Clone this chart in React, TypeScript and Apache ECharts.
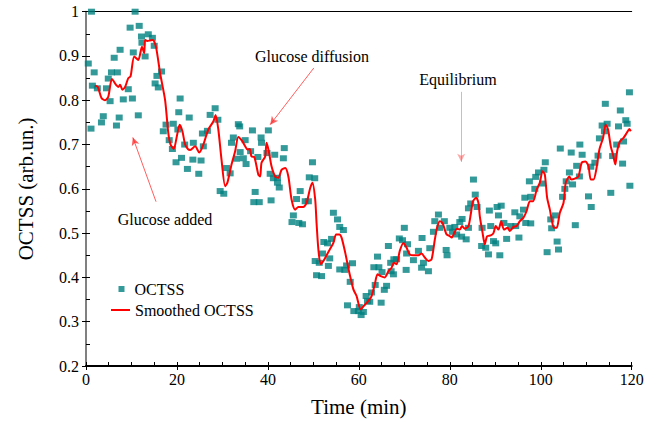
import React, { useEffect, useRef } from "react";
import * as echarts from "echarts";

// Measured OCTSS points (time in min, value in arb. units)
const octssTime = [
  1.2, 10.8, 9.7, 11.7, 12.2, 13.7, 14.6, 12.3, 15.0, 7.5, 10.4, 6.2, 13.0, 0.5, 1.8, 5.6, 6.9, 16.6, 4.9, 15.6,
  1.4, 2.5, 4.5, 9.3, 15.2, 15.9, 5.3, 8.2, 10.2, 20.7, 20.4, 22.7, 3.8, 3.4, 7.3, 11.5, 1.1, 6.7, 17.0, 17.6,
  19.2, 20.2, 18.3, 19.0, 19.8, 21.0, 21.7, 22.3,
  28.4, 27.3, 29.0, 26.7, 25.6, 33.5, 33.8, 36.6, 40.1, 23.6, 25.8, 32.4, 32.0, 35.0, 38.5, 38.6, 43.6, 23.5, 25.3, 33.9,
  36.2, 39.8, 41.5, 43.4, 34.6, 37.8, 33.1, 35.2, 24.8, 30.9, 31.7, 40.5, 41.2, 42.1, 42.1, 42.5, 29.5, 30.3, 37.2, 36.9,
  38.1, 40.7,
  49.8, 49.1, 50.3, 47.1, 46.3, 48.2, 48.9, 45.6, 45.3, 46.8, 47.6, 54.4, 55.3, 55.8, 56.6, 52.3, 53.1, 54.0, 52.0, 53.6,
  50.4, 51.3, 53.3, 50.7, 51.8, 55.8, 56.9, 57.3, 58.6, 58.1, 57.5, 58.9, 59.9, 60.5, 61.0, 60.1, 61.6, 61.9, 62.4, 62.8,
  63.6, 64.9, 65.6, 66.1, 64.1, 63.3, 64.4, 65.1, 66.5, 67.0, 67.7, 67.6, 67.1, 68.3, 70.0, 68.9, 69.6, 70.7, 70.5, 70.4,
  85.2, 85.6, 84.6, 84.1, 86.0, 88.7, 90.4, 91.3, 90.7, 94.3, 77.5, 76.7, 78.8, 76.4, 77.8, 80.0, 81.1, 82.2, 82.7, 84.1,
  80.6, 81.5, 82.6, 83.6, 73.9, 87.1, 89.0, 91.9, 92.5, 95.2, 89.6, 90.1, 87.0, 87.9, 88.5, 91.0, 72.0, 73.1, 75.6, 79.2,
  79.4, 74.2, 73.8, 75.3,
  119.5, 114.2, 117.5, 118.7, 119.0, 114.6, 113.5, 114.0, 117.1, 112.9, 118.2, 116.7, 115.8, 118.0, 108.6, 104.3, 106.7, 109.1, 112.6, 111.9,
  111.0, 101.0, 99.5, 100.7, 98.9, 107.9, 106.3, 108.5, 97.5, 100.4, 105.6, 107.0, 119.6, 98.7, 105.3, 115.4, 104.8, 110.5, 96.5, 97.8,
  111.1, 96.2, 95.4, 103.2, 102.2, 107.6, 96.7, 97.8, 102.4, 93.4, 94.5, 103.6, 101.4, 103.9,
];
const octssValue = [
  1.0, 1.0, 0.964, 0.968, 0.944, 0.949, 0.941, 0.93, 0.923, 0.914, 0.908, 0.896, 0.899, 0.883, 0.863, 0.863, 0.863, 0.865, 0.849, 0.855,
  0.833, 0.827, 0.827, 0.825, 0.838, 0.829, 0.798, 0.802, 0.804, 0.804, 0.773, 0.761, 0.764, 0.75, 0.761, 0.766, 0.736, 0.743, 0.73, 0.745,
  0.747, 0.734, 0.71, 0.69, 0.66, 0.67, 0.70, 0.645,
  0.782, 0.767, 0.756, 0.731, 0.725, 0.746, 0.741, 0.732, 0.732, 0.704, 0.696, 0.716, 0.704, 0.71, 0.716, 0.704, 0.692, 0.666, 0.664, 0.683,
  0.685, 0.681, 0.677, 0.669, 0.669, 0.672, 0.668, 0.656, 0.634, 0.647, 0.635, 0.634, 0.624, 0.625, 0.614, 0.603, 0.595, 0.589, 0.593, 0.57,
  0.57, 0.574,
  0.66, 0.626, 0.624, 0.595, 0.577, 0.572, 0.572, 0.54, 0.525, 0.523, 0.52, 0.546, 0.531, 0.514, 0.507, 0.48, 0.477, 0.487, 0.454, 0.443,
  0.437, 0.433, 0.426, 0.405, 0.403, 0.418, 0.417, 0.427, 0.432, 0.39, 0.337, 0.324, 0.324, 0.315, 0.322, 0.333, 0.358, 0.347, 0.345, 0.366,
  0.383, 0.343, 0.372, 0.381, 0.447, 0.423, 0.423, 0.412, 0.471, 0.433, 0.441, 0.407, 0.414, 0.441, 0.512, 0.488, 0.484, 0.475, 0.454, 0.417,
  0.621, 0.587, 0.567, 0.556, 0.559, 0.551, 0.559, 0.562, 0.54, 0.547, 0.542, 0.527, 0.527, 0.503, 0.512, 0.512, 0.514, 0.525, 0.532, 0.512,
  0.503, 0.497, 0.492, 0.486, 0.489, 0.512, 0.516, 0.523, 0.487, 0.49, 0.482, 0.477, 0.471, 0.467, 0.452, 0.45, 0.439, 0.46, 0.466, 0.462,
  0.45, 0.433, 0.422, 0.414,
  0.818, 0.792, 0.777, 0.755, 0.747, 0.747, 0.743, 0.73, 0.741, 0.714, 0.707, 0.70, 0.674, 0.657, 0.70, 0.691, 0.682, 0.677, 0.675, 0.659,
  0.65, 0.66, 0.637, 0.643, 0.627, 0.652, 0.637, 0.628, 0.617, 0.612, 0.617, 0.61, 0.607, 0.60, 0.60, 0.591, 0.582, 0.583, 0.58, 0.582,
  0.559, 0.553, 0.538, 0.54, 0.531, 0.518, 0.523, 0.522, 0.511, 0.516, 0.516, 0.481, 0.457, 0.463,
];

// Smoothed OCTSS curve
const smoothTime = [
  2.0, 2.6, 3.4, 4.2, 4.9, 5.7, 6.6, 7.1, 7.5, 8.0, 8.6, 9.3, 9.8, 10.6, 11.5, 12.3, 12.8, 13.0, 13.5, 14.1,
  14.7, 15.4, 16.3, 17.4, 18.1, 18.6, 19.3, 20.0, 20.6, 21.2, 21.8, 22.4, 22.9, 24.0, 24.9, 25.8, 26.9, 28.0, 28.5, 29.1,
  29.8, 30.6, 31.1, 32.0, 32.8, 33.5, 34.4, 35.0, 35.5, 36.0, 36.4, 37.0, 37.9, 38.3, 38.6, 39.4, 39.7, 40.2, 40.8, 41.6,
  42.3, 43.0, 43.8, 44.5, 45.2, 46.0, 46.7, 47.8, 48.5, 49.3, 49.8, 50.4, 50.7, 51.1, 51.6, 52.2, 53.0, 53.6, 54.4, 55.0,
  55.7, 56.2, 57.0, 57.9, 58.8, 59.5, 60.4, 61.1, 62.1, 62.8, 63.5, 64.1, 64.8, 65.7, 66.5, 67.2, 67.7, 68.3, 69.0, 69.8,
  70.5, 71.2, 72.0, 73.1, 73.8, 74.5, 75.3, 76.0, 76.7, 77.2, 77.8, 78.4, 78.9, 79.3, 80.0, 80.4, 81.0, 81.6, 82.2, 82.7,
  83.3, 84.1, 84.6, 85.1, 85.8, 86.3, 86.6, 87.2, 87.7, 88.2, 89.0, 89.6, 90.1, 90.7, 91.3, 91.9, 92.7, 93.2, 94.0, 94.7,
  95.4, 96.2, 96.9, 97.6, 98.3, 99.1, 99.8, 100.4, 100.9, 101.4, 102.0, 102.4, 102.9, 103.5, 104.2, 105.0, 105.5, 106.3, 106.7, 107.5,
  108.3, 109.0, 109.8, 110.5, 111.0, 111.6, 112.2, 112.9, 113.7, 114.3, 114.8, 115.4, 115.9, 116.4, 116.8, 117.4, 118.2, 118.9, 119.5, 119.8,
];
const smoothValue = [
  0.833, 0.83, 0.805, 0.80, 0.808, 0.848, 0.835, 0.83, 0.835, 0.824, 0.83, 0.85, 0.854, 0.899, 0.891, 0.921, 0.906, 0.936, 0.934, 0.935,
  0.936, 0.92, 0.861, 0.80, 0.726, 0.70, 0.69, 0.72, 0.745, 0.73, 0.70, 0.69, 0.688, 0.696, 0.682, 0.70, 0.734, 0.752, 0.767, 0.734,
  0.666, 0.606, 0.614, 0.655, 0.685, 0.717, 0.707, 0.696, 0.689, 0.69, 0.673, 0.672, 0.632, 0.628, 0.659, 0.673, 0.704, 0.685, 0.651, 0.628,
  0.625, 0.643, 0.647, 0.628, 0.576, 0.553, 0.559, 0.559, 0.568, 0.602, 0.614, 0.576, 0.523, 0.463, 0.43, 0.437, 0.452, 0.463, 0.478, 0.497,
  0.497, 0.49, 0.456, 0.411, 0.373, 0.358, 0.328, 0.336, 0.347, 0.358, 0.384, 0.407, 0.403, 0.40, 0.414, 0.422, 0.433, 0.43, 0.46, 0.478,
  0.467, 0.452, 0.45, 0.45, 0.454, 0.445, 0.437, 0.441, 0.485, 0.512, 0.527, 0.523, 0.508, 0.497, 0.493, 0.49, 0.501, 0.51, 0.508, 0.516,
  0.51, 0.516, 0.542, 0.572, 0.58, 0.568, 0.538, 0.501, 0.475, 0.493, 0.495, 0.50, 0.516, 0.508, 0.527, 0.508, 0.512, 0.505, 0.514, 0.516,
  0.527, 0.535, 0.55, 0.572, 0.572, 0.598, 0.614, 0.64, 0.632, 0.58, 0.553, 0.531, 0.512, 0.512, 0.546, 0.568, 0.614, 0.628, 0.621, 0.623,
  0.628, 0.659, 0.662, 0.651, 0.621, 0.621, 0.643, 0.689, 0.715, 0.745, 0.734, 0.696, 0.677, 0.655, 0.685, 0.707, 0.715, 0.726, 0.735, 0.73,
];

// Annotations: [label, arrow start (time, value), arrow end (time, value)]
const annotationLabels = ["Glucose diffusion", "Equilibrium", "Glucose added"];
const arrowStarts = [[50.1, 0.873], [82.5, 0.819], [15.4, 0.571]];
const arrowEnds = [[40.5, 0.745], [82.5, 0.661], [10.3, 0.716]];

export default function App() {
  const ref = useRef<HTMLDivElement>(null);
  useEffect(() => {
    document.body.style.margin = "0";
    const chart = echarts.init(ref.current as HTMLDivElement, null, { renderer: "svg" });
    const font = "'Liberation Serif', 'Times New Roman', serif";
    const scatterData = octssTime.map((t, i) => [t, octssValue[i]]);
    const lineData = smoothTime.map((t, i) => [t, smoothValue[i]]);
    const arrowColors = ["rgba(255,40,40,0.75)", "rgba(255,60,60,0.45)", "rgba(255,40,40,0.75)"];
    const textPos = [[312, 56], [458, 79], [165, 219]];

    const option: any = {
      animation: false,
      backgroundColor: "#ffffff",
      textStyle: { fontFamily: font },
      grid: { left: 86, right: 25.3, top: 11.7, bottom: 55, containLabel: false },
      legend: [
        {
          data: ["OCTSS"],
          left: 113.5,
          top: 276,
          orient: "vertical",
          itemWidth: 6,
          itemHeight: 6,
          icon: "rect",
          textStyle: { fontFamily: font, fontSize: 16, color: "#000", padding: [0, 0, 0, 5] },
        },
        {
          data: [{ name: "Smoothed OCTSS", icon: "rect" }],
          left: 106,
          top: 297,
          orient: "vertical",
          itemWidth: 19,
          itemHeight: 2,
          textStyle: { fontFamily: font, fontSize: 16, color: "#000" },
        },
      ],
      xAxis: [
        {
          type: "value",
          min: 0,
          max: 120,
          interval: 20,
          position: "bottom",
          name: "Time (min)",
          nameLocation: "middle",
          nameGap: 30,
          nameTextStyle: { fontFamily: font, fontSize: 21, color: "#000" },
          axisLine: { show: true, lineStyle: { color: "#000", width: 2 } },
          axisTick: { show: true, inside: false, length: 4, lineStyle: { color: "#000" } },
          axisLabel: { fontFamily: font, fontSize: 16, color: "#000", margin: 5 },
          splitLine: { show: false },
        },
        {
          type: "value",
          min: 0,
          max: 120,
          interval: 5,
          position: "bottom",
          axisLine: { show: false },
          axisTick: { show: true, inside: true, length: 4, lineStyle: { color: "#000" } },
          axisLabel: { show: false },
          splitLine: { show: false },
        },
        {
          type: "value",
          min: 0,
          max: 120,
          position: "top",
          axisLine: { show: true, lineStyle: { color: "#000", width: 1 } },
          axisTick: { show: false },
          axisLabel: { show: false },
          splitLine: { show: false },
        },
      ],
      yAxis: [
        {
          type: "value",
          min: 0.2,
          max: 1,
          interval: 0.1,
          position: "left",
          name: "OCTSS (arb.un.)",
          nameLocation: "middle",
          nameGap: 50,
          nameTextStyle: { fontFamily: font, fontSize: 21, color: "#000" },
          axisLine: { show: true, lineStyle: { color: "#000", width: 1 } },
          axisTick: { show: true, inside: false, length: 4, lineStyle: { color: "#000" } },
          axisLabel: { fontFamily: font, fontSize: 16, color: "#000", margin: 7 },
          splitLine: { show: false },
        },
        {
          type: "value",
          min: 0.2,
          max: 1,
          interval: 0.05,
          position: "left",
          axisLine: { show: false },
          axisTick: { show: true, inside: true, length: 4, lineStyle: { color: "#000" } },
          axisLabel: { show: false },
          splitLine: { show: false },
        },
        {
          type: "value",
          min: 0.2,
          max: 1,
          position: "right",
          axisLine: { show: true, lineStyle: { color: "#808080", width: 2 } },
          axisTick: { show: false },
          axisLabel: { show: false },
          splitLine: { show: false },
        },
      ],
      series: [
        {
          name: "OCTSS",
          type: "scatter",
          symbol: "rect",
          symbolSize: [7, 6],
          itemStyle: { color: "#008080" },
          data: scatterData,
          z: 2,
          markLine: {
            silent: true,
            symbol: ["none", "arrow"],
            symbolSize: [6, 8],
            label: { show: false },
            data: arrowStarts.map((s, i) => [
              { coord: s, lineStyle: { color: arrowColors[i], width: 1, type: "solid" } },
              { coord: arrowEnds[i] },
            ]),
          },
        },
        {
          name: "Smoothed OCTSS",
          type: "line",
          data: lineData,
          smooth: 0.25,
          symbol: "none",
          showSymbol: false,
          lineStyle: { color: "#ff0000", width: 2 },
          itemStyle: { color: "#ff0000" },
          z: 3,
        },
      ],
      graphic: annotationLabels.map((label, i) => ({
        type: "text",
        x: textPos[i][0],
        y: textPos[i][1],
        style: {
          text: label,
          fontFamily: font,
          fontSize: 16,
          fill: "#000",
          textAlign: "center",
          textVerticalAlign: "middle",
          align: "center",
          verticalAlign: "middle",
        },
      })),
    };
    chart.setOption(option);
    return () => chart.dispose();
  }, []);
  return <div ref={ref} style={{ width: 657, height: 422 }} />;
}
